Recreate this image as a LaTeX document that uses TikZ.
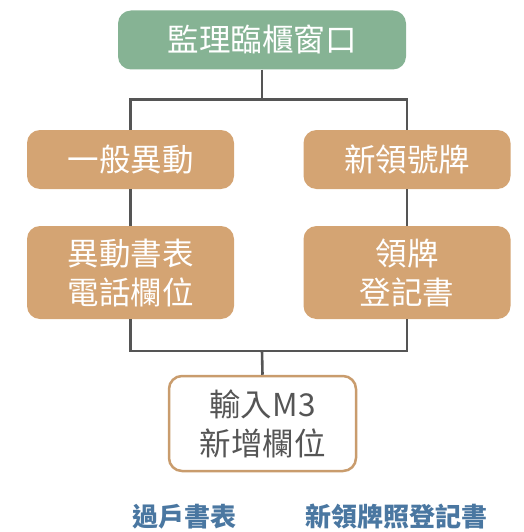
\documentclass[tikz,border=0pt]{standalone}
\usepackage{fontspec}
\newfontfamily\cjk{Noto Sans CJK TC}
\usepackage{tikz}
\usetikzlibrary{positioning}

\definecolor{windowgreen}{HTML}{86B394}
\definecolor{stepbrown}{HTML}{D4A473}
\definecolor{formblue}{HTML}{4A77A1}
\definecolor{linegray}{HTML}{555555}

\begin{document}
\begin{tikzpicture}[x=1pt, y=-1pt, every node/.style = {shape=rectangle, rounded corners=13pt, align=center,
    inner sep=0pt, font=\cjk\fontsize{31.5}{39}\selectfont},
    window/.style = {fill=windowgreen, text=white, minimum width=288pt, minimum height=59pt},
    stepbox/.style = {fill=stepbrown, text=white, minimum width=207pt},
    inputbox/.style = {draw=stepbrown!95!black, line width=2.5pt, fill=white, text=linegray,
      minimum width=187pt, minimum height=95pt},
    formlabel/.style = {draw=none, text=formblue, font=\cjk\bfseries\fontsize{26}{30}\selectfont},
    bus/.style = {draw=linegray, line width=2.6pt}]
  \useasboundingbox (0,0) rectangle (523,532);
  % window and the two kinds of case
  \node[window] (window) at (262,40) {監理臨櫃窗口};
  \node[stepbox, minimum height=59pt] (general) at (130.5,159.5) {一般異動};
  \node[stepbox, minimum height=59pt] (newplate) at (407,159.5) {新領號牌};
  \node[stepbox, minimum height=93pt] (changeform) at (130.5,272.5) {異動書表\\電話欄位};
  \node[stepbox, minimum height=93pt] (plateform) at (407,272.5) {領牌\\登記書};
  \node[inputbox] (mthree) at (262.5,423.5) {輸入M3\\新增欄位};
  % forms below
  \node[formlabel] (transfer) at (184,517) {過戶書表};
  \node[formlabel] (register) at (396,517) {新領牌照登記書};
  % connectors
  \coordinate (topbus) at (262,99.5);
  \coordinate (lowbus) at (262,351);
  \draw[bus] (window.south) -- (topbus);
  \draw[bus] (general.north) |- (topbus) -| (newplate.north);
  \draw[bus] (general) -- (changeform);
  \draw[bus] (newplate) -- (plateform);
  \draw[bus] (changeform.south) |- (lowbus) -| (plateform.south);
  \draw[bus] (lowbus) -- (mthree.north);
\end{tikzpicture}
\end{document}
